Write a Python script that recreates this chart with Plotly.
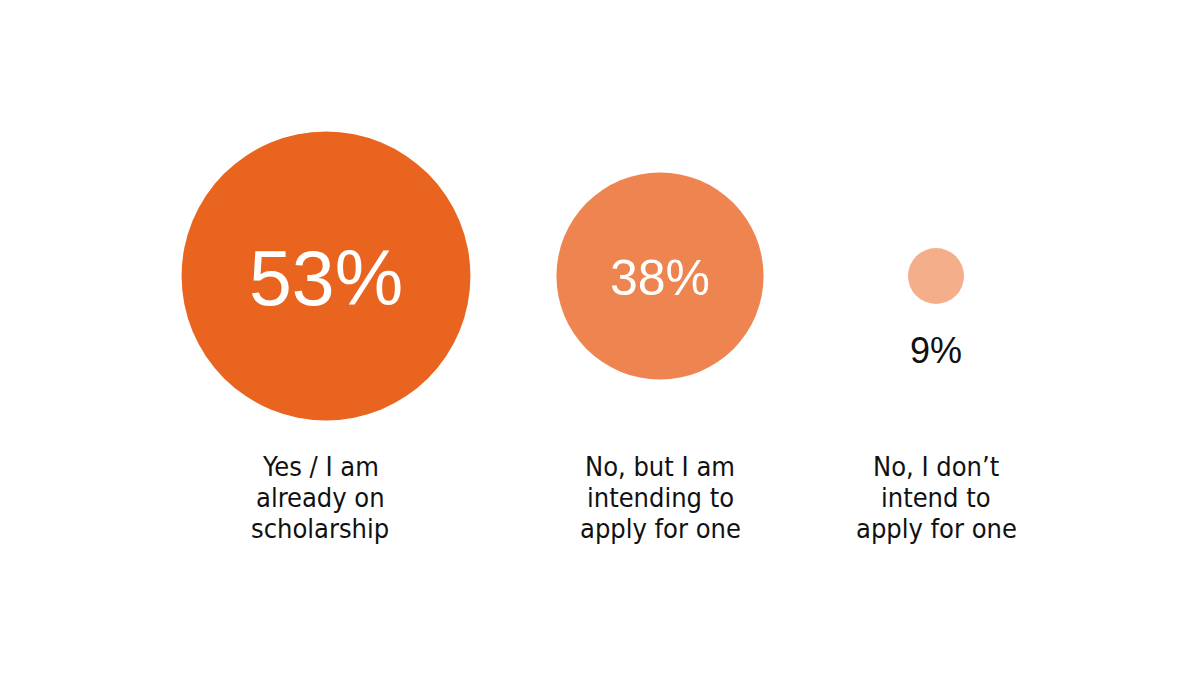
import plotly.graph_objects as go

category_lines = [["Yes / I am", "already on", "scholarship"],
                  ["No, but I am", "intending to", "apply for one"],
                  ["No, I don’t", "intend to", "apply for one"]]
values = [53, 38, 9]
pct_labels = ["53%", "38%", "9%"]

# layout constants (horizontal placement of each group, in px of the 1200-wide canvas)
x_pos = [326, 660, 936]
colors = ["#E9651F", "#EE8450", "#F5AE8A"]

CY = 276
fig = go.Figure()

fig.add_trace(go.Scatter(
    x=x_pos, y=[CY] * 3,
    mode="markers",
    marker=dict(size=values, sizemode="diameter", sizeref=1 / 5.45, sizemin=28,
                color=colors, opacity=1, line=dict(width=0)),
    hoverinfo="skip", showlegend=False,
))

PCT_FONT = "Liberation Sans, Arial, sans-serif"
inside_sizes = [77, 50]
for i in range(2):
    fig.add_annotation(x=x_pos[i], y=CY + 2, text=pct_labels[i], showarrow=False,
                       font=dict(family=PCT_FONT, size=inside_sizes[i], color="white"),
                       xanchor="center", yanchor="middle")
fig.add_annotation(x=x_pos[2], y=350, text=pct_labels[2], showarrow=False,
                   font=dict(family=PCT_FONT, size=36, color="#111111"),
                   xanchor="center", yanchor="middle")

LABEL_FONT = "DejaVu Sans Condensed, Liberation Sans Narrow, Arial Narrow, sans-serif"
line_y = [466, 497, 528]
for i, lines in enumerate(category_lines):
    for j, ln in enumerate(lines):
        fig.add_annotation(x=x_pos[i] - (6 if i == 0 else 0), y=line_y[j], text=ln, showarrow=False,
                           font=dict(family=LABEL_FONT, size=27, color="#111111"),
                           xanchor="center", yanchor="middle")

fig.update_layout(
    width=1200, height=700,
    margin=dict(l=0, r=0, t=0, b=0),
    paper_bgcolor="white", plot_bgcolor="white",
    xaxis=dict(range=[0, 1200], visible=False, fixedrange=True),
    yaxis=dict(range=[700, 0], visible=False, fixedrange=True),
)

fig.write_html("out.html")
